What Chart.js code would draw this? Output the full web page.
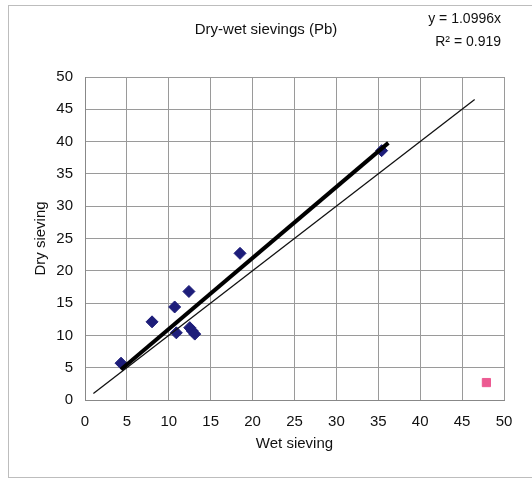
<!DOCTYPE html>
<html>
<head>
<meta charset="utf-8">
<script src="https://cdn.jsdelivr.net/npm/chart.js@4/dist/chart.umd.min.js"></script>
<style>
  body { margin: 0; background: #fff; }
</style>
</head>
<body>
<canvas id="grafico" width="532" height="482"></canvas>
<script>
// datos
const wetSieving = [4.3, 8.0, 10.7, 10.9, 12.4, 12.5, 12.8, 13.1, 18.5, 35.4];
const drySieving = [5.7, 12.1, 14.4, 10.4, 16.8, 11.2, 10.7, 10.2, 22.7, 38.6];
const outlierWet = [47.9];
const outlierDry = [2.7];
const trendSlope = 1.0996;
const trendRange = [4.3, 36.2];
const oneToOneRange = [1, 46.5];
const axisTicks = [0, 5, 10, 15, 20, 25, 30, 35, 40, 45, 50];
const chartTitle = "Dry-wet sievings (Pb)";
const equationLines = ["y = 1.0996x", "R\u00b2 = 0.919"];

const FONT = "'Liberation Sans', Arial, sans-serif";

const puntos = wetSieving.map((x, i) => ({ x, y: drySieving[i] }));
const atipicos = outlierWet.map((x, i) => ({ x, y: outlierDry[i] }));
const tendencia = trendRange.map((x) => ({ x, y: trendSlope * x }));
const unoAuno = oneToOneRange.map((x) => ({ x, y: x }));

// marco exterior y textos
const marcoPlugin = {
  id: "marco",
  beforeDraw(chart) {
    const ctx = chart.ctx;
    ctx.save();
    ctx.fillStyle = "#fff";
    ctx.fillRect(0, 0, chart.width, chart.height);
    ctx.strokeStyle = "#bdbdbd";
    ctx.lineWidth = 1;
    ctx.strokeRect(8.5, 5.5, 540, 472);
    ctx.restore();
  },
  afterDraw(chart) {
    const ctx = chart.ctx;
    ctx.save();
    ctx.fillStyle = "#111";
    ctx.textBaseline = "middle";
    ctx.textAlign = "center";
    ctx.font = "15px " + FONT;
    ctx.fillText(chartTitle, 266, 30);
    ctx.textAlign = "right";
    ctx.font = "14px " + FONT;
    ctx.fillText(equationLines[0], 501, 19);
    ctx.fillText(equationLines[1], 501, 42);
    ctx.restore();
  },
};

const tickOpts = {
  stepSize: 5,
  color: "#111",
  font: { family: FONT, size: 15 },
};

new Chart(document.getElementById("grafico"), {
  type: "scatter",
  plugins: [marcoPlugin],
  data: {
    datasets: [
      {
        label: "Trend",
        type: "line",
        data: tendencia,
        borderColor: "#000",
        borderWidth: 4,
        pointRadius: 0,
        showLine: true,
        order: 0,
      },
      {
        label: "1:1",
        type: "line",
        data: unoAuno,
        borderColor: "#111",
        borderWidth: 1.3,
        pointRadius: 0,
        showLine: true,
        order: 1,
      },
      {
        label: "Data",
        data: puntos,
        pointStyle: "rectRot",
        pointRadius: 6,
        backgroundColor: "#1d1d7a",
        borderColor: "#1d1d7a",
        order: 2,
      },
      {
        label: "Outlier",
        data: atipicos,
        pointStyle: "rect",
        pointRadius: 5.8,
        backgroundColor: "#ec5a92",
        borderColor: "#ec5a92",
        order: 2,
      },
    ],
  },
  options: {
    responsive: false,
    animation: false,
    devicePixelRatio: 1,
    layout: { padding: { left: 32, top: 77, right: 28, bottom: 29 } },
    plugins: {
      legend: { display: false },
      title: { display: false },
      tooltip: { enabled: false },
    },
    scales: {
      x: {
        type: "linear",
        min: axisTicks[0],
        max: axisTicks[axisTicks.length - 1],
        afterBuildTicks: (s) => { s.ticks = axisTicks.map((v) => ({ value: v })); },
        afterFit: (s) => { s.height = 53; },
        ticks: { ...tickOpts, padding: 13 },
        grid: { color: "#9a9a9a", lineWidth: 1, drawTicks: false },
        border: { color: "#888", width: 1 },
        title: {
          display: true,
          text: "Wet sieving",
          color: "#111",
          font: { family: FONT, size: 15 },
          padding: { top: 0, bottom: 0 },
        },
      },
      y: {
        type: "linear",
        min: axisTicks[0],
        max: axisTicks[axisTicks.length - 1],
        afterBuildTicks: (s) => { s.ticks = axisTicks.map((v) => ({ value: v })); },
        afterFit: (s) => { s.width = 53; },
        ticks: { ...tickOpts, padding: 12 },
        grid: { color: "#9a9a9a", lineWidth: 1, drawTicks: false },
        border: { color: "#888", width: 1 },
        title: {
          display: true,
          text: "Dry sieving",
          color: "#111",
          font: { family: FONT, size: 15 },
          padding: { top: 0, bottom: 0 },
        },
      },
    },
  },
});
</script>
</body>
</html>
